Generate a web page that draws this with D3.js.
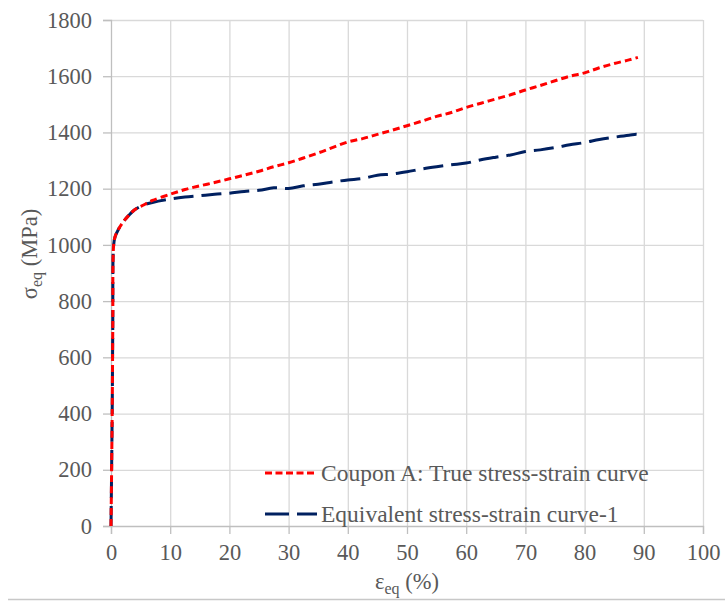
<!DOCTYPE html>
<html>
<head>
<meta charset="utf-8">
<script src="https://cdn.jsdelivr.net/npm/d3@7"></script>
<style>
  html, body { margin: 0; padding: 0; background: #fff; }
  #chart { width: 725px; height: 601px; }
</style>
</head>
<body>
<div id="chart"></div>
<script>
// values
const strainCoupon = [0, 0.2, 0.3, 0.45, 0.7, 1.2, 2, 3, 4, 5.5, 7, 10, 12.5, 15, 17.5, 20, 22.5, 25, 27.5, 30, 32.5, 35, 37.5, 40, 42.5, 45, 47.5, 50, 52.5, 55, 57.5, 60, 62.5, 65, 67.5, 70, 72.5, 75, 77.5, 80, 82.5, 85, 87.5, 89];
const stressCoupon = [0, 400, 700, 1000, 1030, 1053, 1080, 1105, 1125, 1142, 1158, 1180, 1197, 1210, 1222, 1235, 1248, 1262, 1278, 1292, 1309, 1327, 1347, 1366, 1378, 1393, 1408, 1424, 1440, 1457, 1471, 1489, 1504, 1519, 1534, 1551, 1567, 1584, 1600, 1612, 1630, 1645, 1658, 1667];

const strainEquiv = [0, 0.2, 0.3, 0.45, 0.7, 1.2, 2, 3, 4, 5.5, 7, 10, 12.5, 15, 17.5, 20, 22.5, 25, 27.5, 30, 32.5, 35, 37.5, 40, 42.5, 45, 47.5, 50, 52.5, 55, 57.5, 60, 62.5, 65, 67.5, 70, 72.5, 75, 77.5, 80, 82.5, 85, 87.5, 89, 89.8];
const stressEquiv = [0, 400, 700, 1000, 1030, 1053, 1080, 1105, 1125, 1142, 1151, 1163, 1170, 1175, 1180, 1184, 1190, 1194, 1203, 1201, 1210, 1216, 1224, 1231, 1236, 1248, 1252, 1260, 1270, 1278, 1285, 1291, 1303, 1312, 1320, 1332, 1338, 1346, 1356, 1364, 1375, 1383, 1390, 1393, 1378];

const xTicks = [0, 10, 20, 30, 40, 50, 60, 70, 80, 90, 100];
const yTicks = [0, 200, 400, 600, 800, 1000, 1200, 1400, 1600, 1800];
const seriesNames = ['Coupon A: True stress-strain curve', 'Equivalent stress-strain curve-1'];

const width = 725;
const height = 601;
const margin = { top: 20, right: 22, bottom: 75, left: 111 };
const font = "'Liberation Serif'";
const textColor = '#595959';

const svg = d3.select('#chart')
  .append('svg')
  .attr('width', width)
  .attr('height', height)
  .attr('viewBox', `0 0 ${width} ${height}`);

const innerWidth = width - margin.left - margin.right;
const innerHeight = height - margin.top - margin.bottom;

const x = d3.scaleLinear().domain([0, 100]).range([0, innerWidth]);
const y = d3.scaleLinear().domain([0, 1800]).range([innerHeight, 0]);

const g = svg.append('g').attr('transform', `translate(${margin.left}, ${margin.top})`);

// grid
g.append('g')
  .selectAll('line')
  .data(xTicks.slice(1))
  .join('line')
  .attr('x1', (d) => x(d) + 0.5)
  .attr('x2', (d) => x(d) + 0.5)
  .attr('y1', 0)
  .attr('y2', innerHeight)
  .attr('stroke', '#d9d9d9')
  .attr('stroke-width', 1.3);

g.append('g')
  .selectAll('line')
  .data(yTicks.slice(1))
  .join('line')
  .attr('x1', 0)
  .attr('x2', innerWidth)
  .attr('y1', (d) => y(d) + 0.5)
  .attr('y2', (d) => y(d) + 0.5)
  .attr('stroke', '#d9d9d9')
  .attr('stroke-width', 1.3);

// axes
const xAxis = g.append('g')
  .attr('transform', `translate(0, ${innerHeight})`)
  .call(d3.axisBottom(x).tickValues(xTicks).tickFormat(d3.format('d')).tickSize(8).tickPadding(10));

const yAxis = g.append('g')
  .call(d3.axisLeft(y).tickValues(yTicks).tickFormat(d3.format('d')).tickSize(8).tickPadding(11));

[xAxis, yAxis].forEach((ax) => {
  ax.attr('font-family', null).attr('font-size', null);
  ax.select('.domain').attr('stroke', '#bfbfbf').attr('stroke-width', 1.3);
  ax.selectAll('.tick line').attr('stroke', '#bfbfbf').attr('stroke-width', 1.3);
  ax.selectAll('text')
    .attr('fill', textColor)
    .style('font-family', font)
    .style('font-size', '22.5px');
});

// curves
const lineCurve = d3.line()
  .x((d) => x(d[0]))
  .y((d) => y(d[1]))
  .curve(d3.curveCatmullRom.alpha(0.5));

const couponData = strainCoupon.map((v, i) => [v, stressCoupon[i]]);
const equivData = strainEquiv.map((v, i) => [v, stressEquiv[i]]);

g.append('path')
  .datum(equivData)
  .attr('d', lineCurve)
  .attr('fill', 'none')
  .attr('stroke', '#002060')
  .attr('stroke-width', 3)
  .attr('stroke-dasharray', '20 8');

g.append('path')
  .datum(couponData)
  .attr('d', lineCurve)
  .attr('fill', 'none')
  .attr('stroke', '#ff0000')
  .attr('stroke-width', 3)
  .attr('stroke-dasharray', '7 4');

// legend
const legend = svg.append('g').attr('transform', 'translate(265, 473)');
const legendItems = [
  { name: seriesNames[0], color: '#ff0000', dash: '7 3.5' },
  { name: seriesNames[1], color: '#002060', dash: '24 8' }
];

legendItems.forEach((item, i) => {
  const row = legend.append('g').attr('transform', `translate(0, ${i * 41})`);
  row.append('line')
    .attr('x1', 0)
    .attr('x2', 52)
    .attr('y1', 0)
    .attr('y2', 0)
    .attr('stroke', item.color)
    .attr('stroke-width', 3)
    .attr('stroke-dasharray', item.dash);
  row.append('text')
    .attr('x', 56)
    .attr('y', 8)
    .attr('fill', textColor)
    .style('font-family', font)
    .style('font-size', '23.5px')
    .text(item.name);
});

// axis titles
const xTitle = svg.append('text')
  .attr('x', margin.left + innerWidth / 2)
  .attr('y', 589)
  .attr('text-anchor', 'middle')
  .attr('fill', textColor)
  .style('font-family', font)
  .style('font-size', '22.5px');
xTitle.append('tspan').text('ε');
xTitle.append('tspan').attr('dy', 5).style('font-size', '16px').text('eq');
xTitle.append('tspan').attr('dy', -5).text(' (%)');

const yTitle = svg.append('text')
  .attr('transform', 'translate(37, 254) rotate(-90)')
  .attr('text-anchor', 'middle')
  .attr('fill', textColor)
  .style('font-family', font)
  .style('font-size', '22.5px');
yTitle.append('tspan').text('σ');
yTitle.append('tspan').attr('dy', 5).style('font-size', '16px').text('eq');
yTitle.append('tspan').attr('dy', -5).text(' (MPa)');

// thin frame line at the bottom of the picture
svg.append('line')
  .attr('x1', 8)
  .attr('x2', width)
  .attr('y1', 599.5)
  .attr('y2', 599.5)
  .attr('stroke', '#c8c8c8')
  .attr('stroke-width', 1.5);
</script>
</body>
</html>
